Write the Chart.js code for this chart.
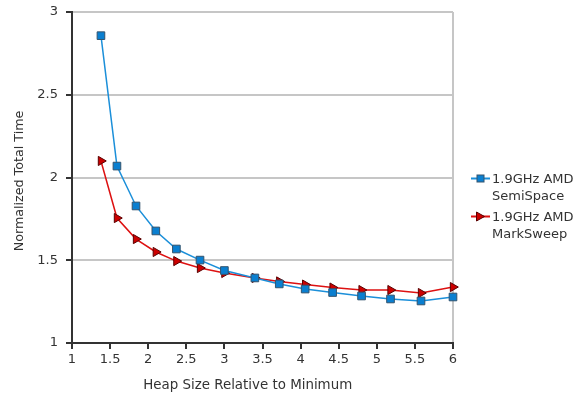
<!DOCTYPE html>
<html><head><meta charset="utf-8">
<script src="https://cdn.jsdelivr.net/npm/chart.js@4"></script>
<style>
html,body{margin:0;padding:0;background:#fff;}
#wrap{position:relative;width:578px;height:401px;overflow:hidden;}
canvas{position:absolute;left:0;top:0;}
#legend{position:absolute;left:470px;top:170px;font:13px 'DejaVu Sans';color:#333;line-height:17px;white-space:nowrap;}
.item{position:relative;padding-left:22px;margin-bottom:4px;}
.item svg{position:absolute;left:0;top:0;}
#xt{position:absolute;left:247.7px;top:377px;transform:translateX(-50%);font:13.4px 'DejaVu Sans';color:#333;line-height:16px;white-space:nowrap;}
#yt{position:absolute;left:-81.5px;top:173px;width:200px;text-align:center;transform:rotate(-90deg);transform-origin:50% 50%;font:12.7px 'DejaVu Sans';color:#333;line-height:16px;white-space:nowrap;}
</style>
</head><body>
<div id="wrap">
<canvas id="c" width="578" height="401"></canvas>
<div id="xt"></div>
<div id="yt"></div>
<div id="legend"></div>
</div>
<script>
const heapSizes = [1.38, 1.59, 1.84, 2.10, 2.37, 2.68, 3.0, 3.40, 3.72, 4.06, 4.42, 4.80, 5.18, 5.58, 6.0];
const semiSpace = [2.857, 2.069, 1.828, 1.677, 1.568, 1.501, 1.438, 1.393, 1.357, 1.326, 1.305, 1.284, 1.266, 1.254, 1.278];
const markSweep = [2.100, 1.755, 1.628, 1.550, 1.495, 1.453, 1.423, 1.393, 1.372, 1.353, 1.335, 1.320, 1.320, 1.302, 1.338];
const seriesNames = [["1.9GHz AMD", "SemiSpace"], ["1.9GHz AMD", "MarkSweep"]];
const xMin = 1, xMax = 6, xStep = 0.5;
const yMin = 1, yMax = 3, yStep = 0.5;
const xTitle = "Heap Size Relative to Minimum";
const yTitle = "Normalized Total Time";

const FONT = "'DejaVu Sans', sans-serif";
const TXT = '#333';
const GRID = '#c6c6c6';
const AXIS = '#333';
const BLUE_LINE = '#1b8fd9', BLUE_FILL = '#0a7fd0', BLUE_EDGE = '#34546e';
const RED_LINE = '#dd1111', RED_FILL = '#cc0000', RED_EDGE = '#5a0000';

const pts = ys => heapSizes.map((x, i) => ({x: x, y: ys[i]}));
const fmt = v => String(Number(v.toFixed(2)));

new Chart(document.getElementById('c'), {
  type: 'line',
  data: {
    datasets: [
      {label: seriesNames[0].join(' '), data: pts(semiSpace), borderColor: BLUE_LINE, borderWidth: 1.5,
       pointStyle: 'rect', pointRadius: 5.4, pointBackgroundColor: BLUE_FILL, pointBorderColor: BLUE_EDGE,
       pointBorderWidth: 1, tension: 0, clip: false},
      {label: seriesNames[1].join(' '), data: pts(markSweep), borderColor: RED_LINE, borderWidth: 1.5,
       pointStyle: 'triangle', pointRotation: 90, pointRadius: 5.3, pointBackgroundColor: RED_FILL, pointBorderColor: RED_EDGE,
       pointBorderWidth: 1, tension: 0, clip: false}
    ]
  },
  options: {
    responsive: false, animation: false, devicePixelRatio: 1,
    layout: {padding: {left: 8, right: 125, top: 12, bottom: 4}},
    plugins: {legend: {display: false}, tooltip: {enabled: false}},
    scales: {
      x: {
        type: 'linear', min: xMin, max: xMax,
        ticks: {stepSize: xStep, color: TXT, font: {family: FONT, size: 13}, padding: 3, maxRotation: 0, callback: fmt},
        grid: {color: c => (c.tick && c.tick.value === xMax) ? GRID : 'rgba(0,0,0,0)', lineWidth: 2,
               tickColor: AXIS, tickLength: 6, drawOnChartArea: true},
        border: {color: AXIS, width: 2},
        title: {display: false},
        afterFit: s => { s.height = 54; }
      },
      y: {
        min: yMin, max: yMax,
        ticks: {stepSize: yStep, color: TXT, font: {family: FONT, size: 13}, padding: 8, callback: fmt},
        grid: {color: c => (c.tick && c.tick.value === yMin) ? 'rgba(0,0,0,0)' : GRID, lineWidth: 2,
               tickColor: AXIS, tickLength: 6},
        border: {color: AXIS, width: 2},
        title: {display: false},
        afterFit: s => { s.width = 64; s.paddingTop = 0; s.paddingBottom = 0; }
      }
    }
  }
});

document.getElementById('xt').textContent = xTitle;
document.getElementById('yt').textContent = yTitle;

// HTML legend
const legend = document.getElementById('legend');
const markers = [
  `<svg width="20" height="17"><line x1="1" y1="8.5" x2="20" y2="8.5" stroke="${BLUE_LINE}" stroke-width="2"/><rect x="7" y="5" width="7" height="7" fill="${BLUE_FILL}" stroke="${BLUE_EDGE}" stroke-width="1"/></svg>`,
  `<svg width="20" height="17"><line x1="1" y1="8.5" x2="20" y2="8.5" stroke="${RED_LINE}" stroke-width="2"/><polygon points="6.5,4 14.5,8.5 6.5,13" fill="${RED_FILL}" stroke="${RED_EDGE}" stroke-width="1"/></svg>`
];
seriesNames.forEach((lines, i) => {
  const d = document.createElement('div');
  d.className = 'item';
  d.innerHTML = markers[i] + lines.join('<br>');
  legend.appendChild(d);
});
</script>
</body></html>
